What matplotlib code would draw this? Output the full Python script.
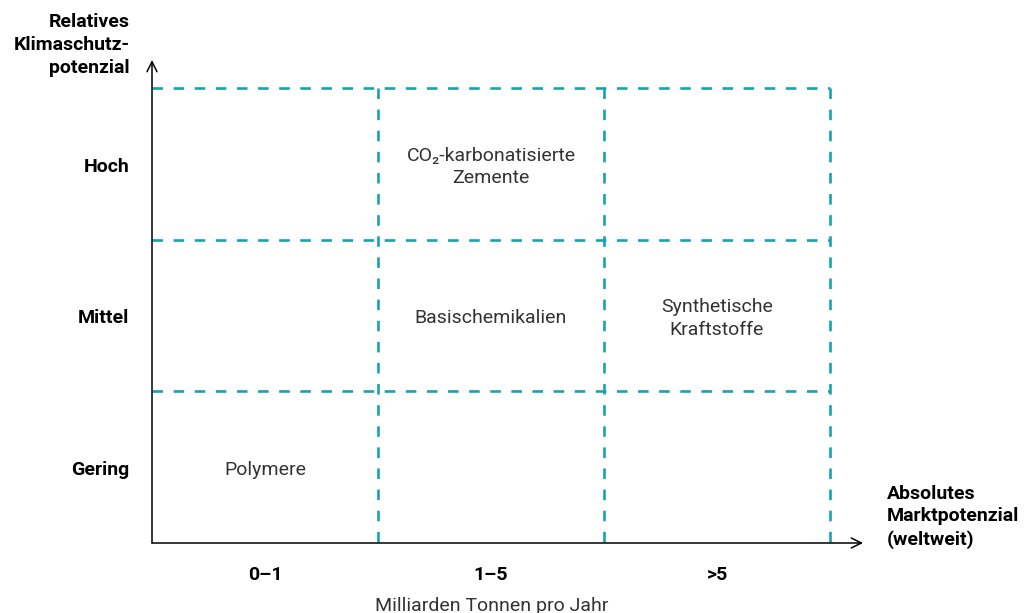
import matplotlib.pyplot as plt

plt.rcParams['font.family'] = ['Roboto', 'DejaVu Sans']

col_labels = ['0–1', '1–5', '>5']
row_labels = ['Gering', 'Mittel', 'Hoch']
# (column, row, text)
cells = [
    (1, 2, 'CO₂-karbonatisierte\nZemente'),
    (1, 1, 'Basischemikalien'),
    (2, 1, 'Synthetische\nKraftstoffe'),
    (0, 0, 'Polymere'),
]
y_title = 'Relatives\nKlimaschutz-\npotenzial'
x_title = 'Absolutes\nMarktpotenzial\n(weltweit)'
x_unit = 'Milliarden Tonnen pro Jahr'

teal = '#16a3b1'

fig = plt.figure(figsize=(10.31, 6.13), dpi=100)
ax = fig.add_axes([152 / 1031, 1 - 543 / 613, (863 - 152) / 1031, (543 - 60) / 613])
ax.set_xlim(0, 3.146)
ax.set_ylim(0, 3.184)
ax.axis('off')

# grid
for i in range(1, 4):
    ax.plot([i, i], [3, 0], color=teal, lw=1.9, ls=(0, (4, 4)), solid_capstyle='butt')
    ax.plot([0, 3], [i, i], color=teal, lw=1.9, ls=(0, (4, 4)), solid_capstyle='butt')

# axes with arrows
ax.annotate('', xy=(3.146, 0), xytext=(0, 0),
            arrowprops=dict(arrowstyle='->', lw=1.1, color='black', mutation_scale=18,
                            shrinkA=0, shrinkB=0))
ax.annotate('', xy=(0, 3.184), xytext=(0, 0),
            arrowprops=dict(arrowstyle='->', lw=1.1, color='black', mutation_scale=18,
                            shrinkA=0, shrinkB=0))

for c, r, t in cells:
    ax.text(c + 0.5, r + 0.48, t, ha='center', va='center', fontsize=14,
            color='#333333', linespacing=1.3)

for i, lab in enumerate(row_labels):
    ax.text(-0.1, i + 0.48, lab, ha='right', va='center', fontsize=14, fontweight='bold')
for i, lab in enumerate(col_labels):
    ax.text(i + 0.5, -0.21, lab, ha='center', va='center', fontsize=14, fontweight='bold')

fig.text(130 / 1031, 1 - 45 / 613, y_title, ha='right', va='center', fontsize=14,
         fontweight='bold', linespacing=1.38)
fig.text(887 / 1031, 1 - 517 / 613, x_title, ha='left', va='center', fontsize=14,
         fontweight='bold', linespacing=1.3)
fig.text(492 / 1031, 1 - 606 / 613, x_unit, ha='center', va='center', fontsize=14,
         color='#333333')

fig.savefig('out.png', dpi=100)
